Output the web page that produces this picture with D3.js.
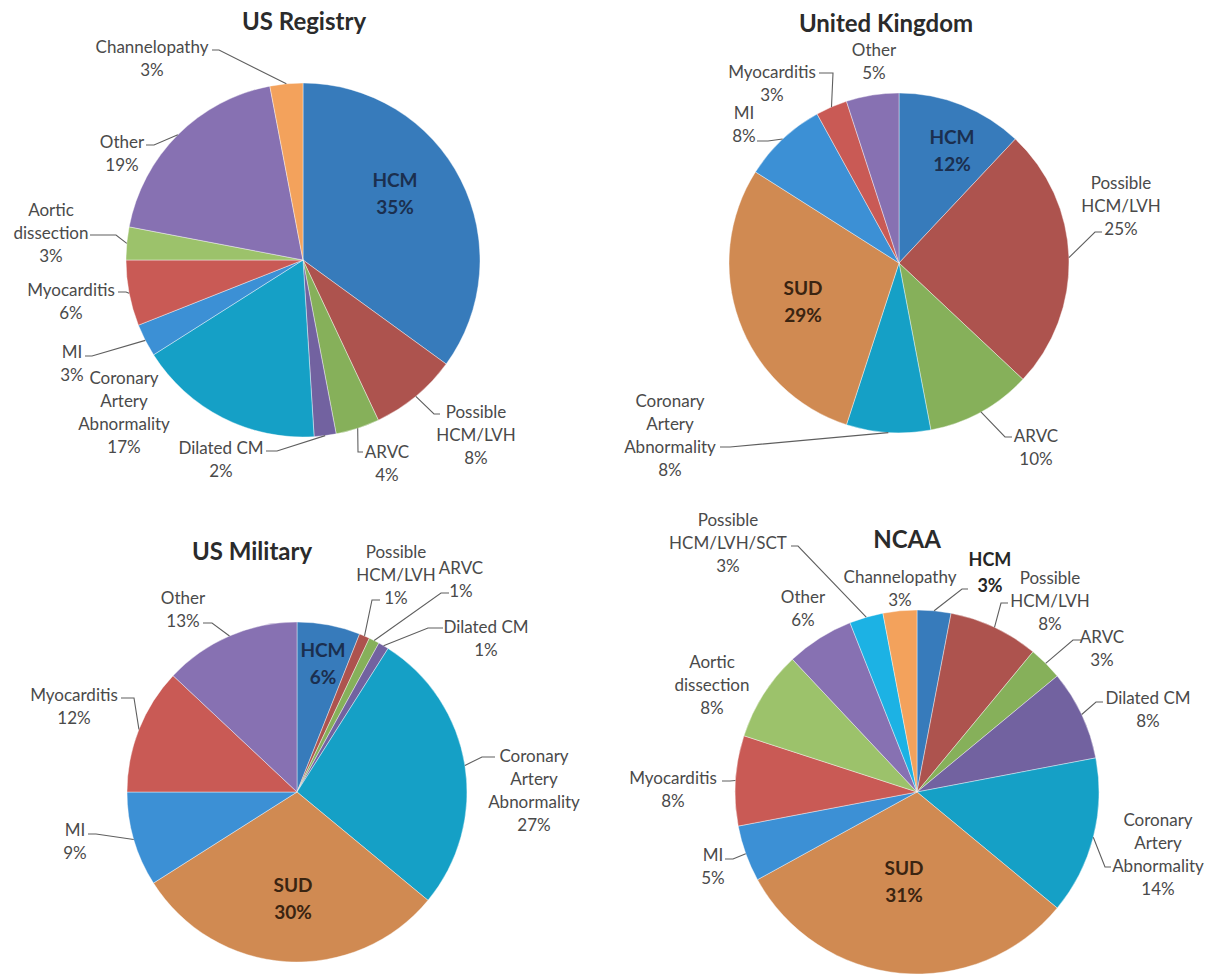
<!DOCTYPE html>
<html>
<head>
<meta charset="utf-8">
<script src="https://cdn.jsdelivr.net/npm/d3@7"></script>
<style>
  body { margin: 0; background: #ffffff; }
  svg { display: block; }
</style>
</head>
<body>
<svg id="chart" width="1212" height="976"></svg>
<script>
// Causes of sudden cardiac death, share (%) per cohort, listed clockwise from 12 o'clock
const usRegistryCauses = ["HCM", "Possible HCM/LVH", "ARVC", "Dilated CM", "Coronary Artery Abnormality",
  "MI", "Myocarditis", "Aortic dissection", "Other", "Channelopathy"];
const usRegistryShares = [35, 8, 4, 2, 17, 3, 6, 3, 19, 3];

const ukCauses = ["HCM", "Possible HCM/LVH", "ARVC", "Coronary Artery Abnormality", "SUD",
  "MI", "Myocarditis", "Other"];
const ukShares = [12, 25, 10, 8, 29, 8, 3, 5];

const militaryCauses = ["HCM", "Possible HCM/LVH", "ARVC", "Dilated CM", "Coronary Artery Abnormality",
  "SUD", "MI", "Myocarditis", "Other"];
const militaryShares = [6, 1, 1, 1, 27, 30, 9, 12, 13];

const ncaaCauses = ["HCM", "Possible HCM/LVH", "ARVC", "Dilated CM", "Coronary Artery Abnormality",
  "SUD", "MI", "Myocarditis", "Aortic dissection", "Other", "Possible HCM/LVH/SCT", "Channelopathy"];
const ncaaShares = [3, 8, 3, 8, 14, 31, 5, 8, 8, 6, 3, 3];

const panelTitles = ["US Registry", "United Kingdom", "US Military", "NCAA"];

// slice colour per cause
const causeColor = d3.scaleOrdinal()
  .domain(["HCM", "Possible HCM/LVH", "ARVC", "Dilated CM", "Coronary Artery Abnormality", "SUD",
    "MI", "Myocarditis", "Aortic dissection", "Other", "Possible HCM/LVH/SCT", "Channelopathy"])
  .range(["#377bbb", "#ad534e", "#86b05a", "#7262a0", "#15a0c6", "#d08a52",
    "#3c90d5", "#c95a55", "#9cc26b", "#8771b2", "#1cb2e4", "#f3a25c"]);

// panel geometry and label placement (label x,y = centre of first line;
// leader = [start x, start y, elbow x], ending on the slice rim)
const panels = [
  {
    title: panelTitles[0], causes: usRegistryCauses, shares: usRegistryShares,
    cx: 303, cy: 260, r: 177, titleX: 304, titleY: 22,
    labels: {
      "HCM": { x: 395, y: 180, inside: true },
      "Possible HCM/LVH": { x: 476, y: 412, wrap: true, leader: [440, 414, 434] },
      "ARVC": { x: 387, y: 452, leader: [363, 452, 358] },
      "Dilated CM": { x: 221, y: 448, leader: [266, 451, 277] },
      "Coronary Artery Abnormality": { x: 124, y: 378, wrap: true },
      "MI": { x: 72, y: 352, leader: [85, 356, 92] },
      "Myocarditis": { x: 71, y: 290, leader: [118, 292, 126] },
      "Aortic dissection": { x: 51, y: 210, wrap: true, leader: [90, 235, 116] },
      "Other": { x: 122, y: 142, leader: [146, 145, 154] },
      "Channelopathy": { x: 152, y: 47, leader: [212, 50, 219] }
    }
  },
  {
    title: panelTitles[1], causes: ukCauses, shares: ukShares,
    cx: 899, cy: 263, r: 170, titleX: 886, titleY: 24,
    labels: {
      "HCM": { x: 952, y: 137, inside: true },
      "Possible HCM/LVH": { x: 1121, y: 183, wrap: true, leader: [1102, 232, 1095] },
      "ARVC": { x: 1036, y: 436, leader: [1012, 437, 1005] },
      "Coronary Artery Abnormality": { x: 670, y: 401, wrap: true, leader: [720, 447, 730] },
      "SUD": { x: 803, y: 288, inside: true },
      "MI": { x: 744, y: 113, leader: [757, 141, 768] },
      "Myocarditis": { x: 772, y: 72, leader: [819, 73, 833] },
      "Other": { x: 874, y: 50 }
    }
  },
  {
    title: panelTitles[2], causes: militaryCauses, shares: militaryShares,
    cx: 297, cy: 792, r: 170, titleX: 252, titleY: 552,
    labels: {
      "HCM": { x: 323, y: 650, inside: true },
      "Possible HCM/LVH": { x: 396, y: 552, wrap: true, leader: [380, 600, 372] },
      "ARVC": { x: 461, y: 568, leader: [449, 593, 441] },
      "Dilated CM": { x: 486, y: 627, leader: [443, 628, 428] },
      "Coronary Artery Abnormality": { x: 534, y: 756, wrap: true, leader: [495, 757, 482] },
      "SUD": { x: 293, y: 885, inside: true },
      "MI": { x: 75, y: 830, leader: [88, 834, 96] },
      "Myocarditis": { x: 74, y: 695, leader: [121, 698, 134] },
      "Other": { x: 183, y: 598, leader: [203, 623, 212] }
    }
  },
  {
    title: panelTitles[3], causes: ncaaCauses, shares: ncaaShares,
    cx: 917, cy: 792, r: 182, titleX: 907, titleY: 540,
    labels: {
      "HCM": { x: 990, y: 560, bold: true, leader: [968, 589, 962] },
      "Possible HCM/LVH": { x: 1050, y: 578, wrap: true, leader: [1008, 603, 1001] },
      "ARVC": { x: 1102, y: 637, leader: [1081, 640, 1073] },
      "Dilated CM": { x: 1148, y: 698, leader: [1103, 702, 1096] },
      "Coronary Artery Abnormality": { x: 1158, y: 820, wrap: true, leader: [1111, 867, 1105] },
      "SUD": { x: 904, y: 868, inside: true },
      "MI": { x: 713, y: 855, leader: [725, 859, 733] },
      "Myocarditis": { x: 673, y: 778, leader: [722, 781, 730] },
      "Aortic dissection": { x: 712, y: 662, wrap: true },
      "Other": { x: 803, y: 597 },
      "Possible HCM/LVH/SCT": { x: 728, y: 520, wrap: true, leader: [791, 546, 798] },
      "Channelopathy": { x: 900, y: 577 }
    }
  }
];

const svg = d3.select("#chart");
const FONT = "Lato, 'Open Sans', sans-serif";
const pie = d3.pie().sort(null).value(d => d.share);

function writeLines(g, lines, x, y, lineHeight, size, weight, fill) {
  const t = g.append("text")
    .attr("text-anchor", "middle")
    .attr("font-family", FONT)
    .attr("font-size", size)
    .attr("font-weight", weight)
    .attr("fill", fill);
  lines.forEach((s, i) => {
    t.append("tspan").attr("x", x).attr("y", y + i * lineHeight).attr("dy", "0.35em").text(s);
  });
}

function wrapName(name) {
  if (name.startsWith("Possible")) return ["Possible", name.slice(9)];
  return name.split(" ");
}

panels.forEach(p => {
  const rows = p.causes.map((c, i) => ({ cause: c, share: p.shares[i] }));
  const arcs = pie(rows);
  const arc = d3.arc().innerRadius(0).outerRadius(p.r);
  const rim = d3.arc().innerRadius(p.r).outerRadius(p.r);

  const g = svg.append("g");

  // title
  g.append("text")
    .attr("x", p.titleX).attr("y", p.titleY).attr("dy", "0.35em")
    .attr("text-anchor", "middle")
    .attr("font-family", FONT).attr("font-size", 24).attr("font-weight", 700)
    .attr("fill", "#2b2b2b")
    .text(p.title);

  // slices
  g.append("g").attr("transform", `translate(${p.cx},${p.cy})`)
    .selectAll("path").data(arcs).join("path")
    .attr("d", arc)
    .attr("fill", d => causeColor(d.data.cause))
    .attr("stroke", "rgba(255,255,255,0.5)")
    .attr("stroke-width", 0.8);

  // leader lines and labels
  arcs.forEach(d => {
    const L = p.labels[d.data.cause];
    if (!L) return;
    const name = d.data.cause;
    const nameLines = L.wrap ? wrapName(name) : [name];
    const lines = nameLines.concat([d.data.share + "%"]);

    if (L.leader) {
      const [sx, sy, ex] = L.leader;
      const [rx, ry] = rim.centroid(d);
      g.append("path")
        .attr("d", `M${sx},${sy}L${ex},${sy}L${p.cx + rx},${p.cy + ry}`)
        .attr("fill", "none")
        .attr("stroke", "#5f5f5f")
        .attr("stroke-width", 1.1);
    }

    if (L.inside) {
      const fill = name === "SUD" ? "#3a2411" : "#1b2f4f";
      writeLines(g, lines, L.x, L.y, 27, 19, 700, fill);
    } else if (L.bold) {
      writeLines(g, lines, L.x, L.y, 26, 18, 700, "#262626");
    } else {
      writeLines(g, lines, L.x, L.y, 23, 17, 400, "#4a4a4a");
    }
  });
});
</script>
</body>
</html>
